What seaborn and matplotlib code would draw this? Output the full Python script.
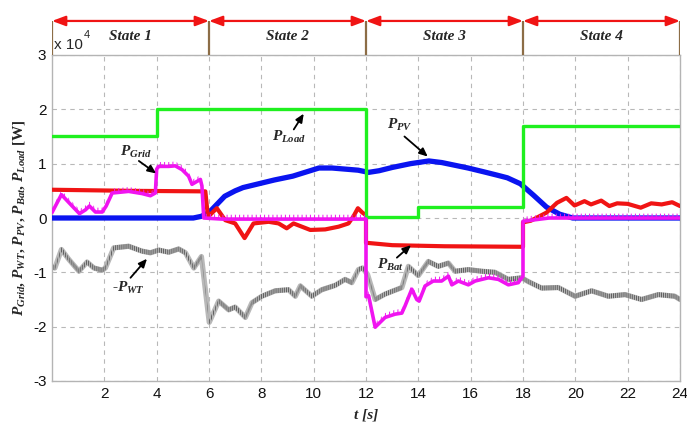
import numpy as np
import matplotlib
matplotlib.use("Agg")
import matplotlib.pyplot as plt
import seaborn as sns

# ---- data: time in s, power in units of 1e4 W ----
t_load = [0, 4, 4, 12, 12, 14, 14, 18, 18, 24]
p_load = [1.5, 1.5, 2.0, 2.0, 0.02, 0.02, 0.2, 0.2, 1.7, 1.7]

t_pv = [0, 5.4, 5.7, 6.0, 6.3, 6.6, 7.0, 7.3, 7.9, 8.5, 9.2, 9.8, 10.2, 10.7,
        11.2, 11.7, 12.1, 12.5, 13.0, 13.7, 14.4, 14.9, 15.3, 15.9, 16.5, 17.0,
        17.4, 17.9, 18.4, 18.9, 19.4, 19.9, 24]
p_pv = [0, 0, 0.03, 0.1, 0.25, 0.4, 0.5, 0.56, 0.63, 0.7, 0.77, 0.86, 0.92, 0.92,
        0.9, 0.88, 0.84, 0.87, 0.93, 1.0, 1.05, 1.02, 0.98, 0.92, 0.85, 0.79,
        0.74, 0.63, 0.42, 0.2, 0.07, 0.0, 0.0]

t_bat = [0, 3.0, 5.86, 5.96, 6.3, 6.62, 7.0, 7.36, 7.7, 8.28, 8.66, 8.97, 9.23,
         9.55, 9.87, 10.44, 10.95, 11.33, 11.52, 11.69, 11.86, 12.0, 12.0, 12.1,
         13.0, 15.0, 18.0, 18.0, 18.3, 18.9, 19.3, 19.66, 19.97, 20.35, 20.6,
         20.99, 21.3, 21.6, 22.0, 22.5, 22.9, 23.3, 23.7, 24.0]
p_bat = [0.52, 0.5, 0.49, 0.02, 0.18, -0.04, -0.1, -0.37, -0.1, -0.07, -0.1,
         -0.19, -0.1, -0.16, -0.22, -0.21, -0.16, -0.1, 0.03, 0.18, 0.1, 0.05,
         -0.46, -0.46, -0.5, -0.52, -0.53, -0.08, -0.05, 0.1, 0.28, 0.37, 0.23,
         0.31, 0.25, 0.32, 0.22, 0.27, 0.26, 0.19, 0.27, 0.25, 0.29, 0.22]

t_grid = [0.0, 0.13, 0.36, 0.77, 1.05, 1.28, 1.43, 1.66, 1.92, 2.07, 2.3, 2.93,
          3.44, 3.76, 3.95, 4.0, 4.08, 4.46, 4.71, 4.97, 5.22, 5.35, 5.67, 5.73,
          5.8, 6.5, 9.0, 12.0, 12.0, 12.1, 12.35, 12.73, 13.11, 13.37, 13.49,
          13.75, 13.94, 14.03, 14.26, 14.57, 14.89, 15.15, 15.28, 15.53, 15.91,
          16.17, 16.68, 17.06, 17.44, 17.82, 18.0, 18.0, 18.5, 19.0, 24.0]
p_grid = [0.1, 0.22, 0.43, 0.22, 0.08, 0.15, 0.22, 0.11, 0.11, 0.22, 0.46, 0.49,
          0.45, 0.41, 0.46, 0.9, 0.95, 0.95, 0.96, 0.89, 0.77, 0.62, 0.71, 0.59,
          0.0, -0.02, -0.02, -0.02, -1.45, -1.43, -2.01, -1.83, -1.77, -1.75,
          -1.62, -1.31, -1.5, -1.53, -1.25, -1.16, -1.16, -1.07, -1.23, -1.16,
          -1.23, -1.16, -1.1, -1.13, -1.23, -1.19, -1.07, -0.06, -0.03, 0.0, 0.0]

t_wt = [0.0, 0.11, 0.36, 0.64, 1.03, 1.34, 1.6, 1.92, 2.04, 2.36, 2.93, 3.44,
        3.76, 4.08, 4.46, 4.84, 5.1, 5.42, 5.71, 6.01, 6.37, 6.75, 7.0, 7.39,
        7.64, 8.02, 8.53, 9.04, 9.3, 9.49, 9.93, 10.31, 10.82, 11.2, 11.46,
        11.71, 11.87, 12.06, 12.35, 12.73, 13.37, 13.62, 14.0, 14.38, 14.76,
        15.15, 15.4, 15.91, 16.42, 16.93, 17.44, 17.95, 18.2, 18.71, 19.35,
        19.99, 20.62, 21.26, 21.9, 22.53, 23.17, 23.8, 24.0]
p_wt = [-0.9, -0.92, -0.58, -0.76, -0.98, -0.81, -0.92, -0.96, -0.92, -0.55,
        -0.52, -0.61, -0.64, -0.59, -0.63, -0.57, -0.64, -0.92, -0.71, -1.92,
        -1.53, -1.69, -1.64, -1.83, -1.56, -1.44, -1.34, -1.32, -1.44, -1.25,
        -1.44, -1.32, -1.24, -1.13, -1.19, -0.95, -0.92, -1.04, -1.5, -1.4,
        -1.28, -0.89, -1.06, -0.8, -0.89, -0.83, -0.98, -0.95, -0.98, -1.0,
        -1.13, -1.1, -1.17, -1.29, -1.28, -1.44, -1.34, -1.44, -1.41, -1.5,
        -1.41, -1.44, -1.5]

state_edges = [0, 6, 12, 18, 24]
state_names = ["State 1", "State 2", "State 3", "State 4"]
x_ticks = [2, 4, 6, 8, 10, 12, 14, 16, 18, 20, 22, 24]
y_ticks = [-3, -2, -1, 0, 1, 2, 3]

# ---- style ----
sns.set_style("white")
plt.rcParams.update({
    "font.family": ["Liberation Sans", "DejaVu Sans"],
    "mathtext.fontset": "custom",
    "mathtext.it": "Liberation Serif:italic:bold",
    "mathtext.rm": "Liberation Serif:bold",
    "mathtext.bf": "Liberation Serif:bold",
    "hatch.linewidth": 0.7,
})

W, H = 687, 423
fig = plt.figure(figsize=(W / 100, H / 100), dpi=100)
ax = fig.add_axes([52 / W, 1 - 381 / H, 628 / W, 326 / H])
band = fig.add_axes([52 / W, 1 - 55 / H, 628 / W, 37 / H])

# ---- curves ----
wt = np.array(p_wt)
sns.lineplot(x=t_wt, y=p_wt, ax=ax, color="#b9b9b9", lw=3.8,
             estimator=None, sort=False, zorder=2)
ax.fill_between(t_wt, wt - 0.045, wt + 0.045, facecolor="none",
                edgecolor="#5e5e5e", hatch="||||||||", lw=0, zorder=2.1)

sns.lineplot(x=t_pv, y=p_pv, ax=ax, color="#0a14f0", lw=3.8,
             estimator=None, sort=False, zorder=3)
sns.lineplot(x=t_bat, y=p_bat, ax=ax, color="#f01414", lw=3.0,
             estimator=None, sort=False, zorder=4)
sns.lineplot(x=t_load, y=p_load, ax=ax, color="#1ff01f", lw=2.4,
             estimator=None, sort=False, zorder=5)

grid_arr = np.array(p_grid)
sns.lineplot(x=t_grid, y=p_grid, ax=ax, color="#f014f0", lw=2.6,
             estimator=None, sort=False, zorder=6)
ax.fill_between(t_grid, grid_arr, grid_arr + 0.08, facecolor="none",
                edgecolor="#f014f0", hatch="||||", lw=0, zorder=6)

# ---- axes ----
ax.set_xlim(0, 24)
ax.set_ylim(-3, 3)
ax.set_xticks(x_ticks)
ax.set_yticks(y_ticks)
ax.set_yticklabels([str(v) for v in y_ticks])
ax.tick_params(length=0, labelsize=11, pad=4, colors="#111111")
ax.grid(True, color="#b8b8b8", linestyle=(0, (4, 4)), lw=0.8)
for s in ax.spines.values():
    s.set_color("#b4b4b4")
    s.set_linewidth(1.0)

ax.set_xlabel("t [s]", fontfamily="Liberation Serif", fontweight="bold",
              fontstyle="italic", fontsize=11, labelpad=6)
ax.set_ylabel(r"$P_{Grid}$, $P_{WT}$, $P_{PV}$, $P_{Bat}$, $P_{Load}$ [W]",
              fontfamily="Liberation Serif", fontweight="bold", fontsize=11,
              labelpad=4)

ax.text(0.003, 1.008, "x 10", transform=ax.transAxes, fontsize=11,
        ha="left", va="bottom")
ax.text(0.05, 1.045, "4", transform=ax.transAxes, fontsize=8,
        ha="left", va="bottom")

# ---- annotations ----
arrow = dict(arrowstyle="-|>,head_length=0.5,head_width=0.22", color="black",
             lw=1.3, shrinkA=0, shrinkB=0)
notes = [
    (r"$P_{Load}$", (9.05, 1.5), (9.24, 1.63), (9.62, 1.92)),
    (r"$P_{PV}$", (13.3, 1.72), (13.47, 1.5), (14.36, 1.13)),
    (r"$P_{Grid}$", (3.2, 1.21), (3.32, 1.05), (3.98, 0.82)),
    (r"$P_{Bat}$", (12.95, -0.86), (13.18, -0.73), (13.72, -0.5)),
    (r"-$P_{WT}$", (2.9, -1.28), (3.0, -1.1), (3.63, -0.75)),
]
for label, txy, tail, head in notes:
    ax.text(*txy, label, fontsize=11, ha="center", va="center",
            fontfamily="Liberation Serif", fontweight="bold", zorder=10)
    ax.annotate("", xy=head, xytext=tail, arrowprops=arrow, zorder=10)

# ---- state band ----
band.set_xlim(0, 24)
band.set_ylim(0, 1)
band.axis("off")
band.vlines(state_edges, 0, 0.92, color="#8c6d46", lw=1.6)
for i, name in enumerate(state_names):
    a, b = state_edges[i], state_edges[i + 1]
    band.annotate("", xy=(b, 0.92), xytext=(a, 0.92),
                  arrowprops=dict(arrowstyle="<|-|>,head_length=0.8,head_width=0.3",
                                  color="#f01414", lw=1.6, shrinkA=0, shrinkB=0,
                                  mutation_scale=10))
    band.text((a + b) / 2, 0.5, name, ha="center", va="center", fontsize=11,
              fontfamily="Liberation Serif", fontweight="bold",
              fontstyle="italic")

fig.savefig("out.png", dpi=100, facecolor="white")
